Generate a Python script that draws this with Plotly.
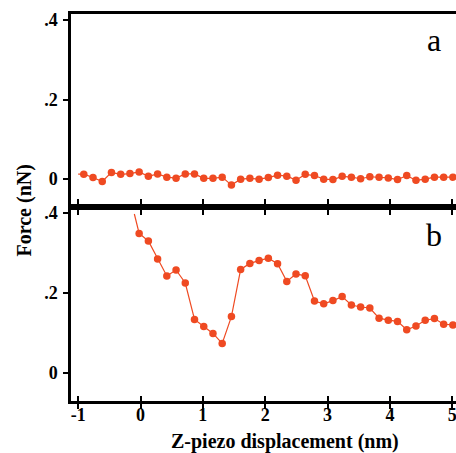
import plotly.graph_objects as go

# Sampling positions along the Z-piezo displacement (nm)
z_nm = [-0.910, -0.762, -0.614, -0.466, -0.318, -0.170, -0.022, 0.126, 0.274, 0.422,
        0.570, 0.718, 0.866, 1.014, 1.162, 1.310, 1.458, 1.606, 1.754, 1.902,
        2.050, 2.198, 2.346, 2.494, 2.642, 2.790, 2.938, 3.086, 3.234, 3.382,
        3.530, 3.678, 3.826, 3.974, 4.122, 4.270, 4.418, 4.566, 4.714, 4.862, 5.010]

# Panel a: force curve that stays flat near zero
force_a = [0.0125, 0.004, -0.006, 0.017, 0.012, 0.014, 0.018, 0.007, 0.013, 0.005,
           0.0025, 0.013, 0.013, 0.002, 0.002, 0.005, -0.015, 0.000, 0.002, 0.000,
           0.004, 0.010, 0.0075, -0.0025, 0.012, 0.009, 0.000, -0.001, 0.007, 0.005,
           0.001, 0.006, 0.005, 0.003, -0.001, 0.009, -0.003, 0.000, 0.005, 0.005, 0.005]
lead_a = (-1.00, 0.0125)

# Panel b: oscillating force curve (starts at z = -0.022 nm)
z_b = z_nm[6:]
force_b = [0.349, 0.330, 0.285, 0.2425, 0.2575, 0.225, 0.134, 0.116, 0.099, 0.074,
           0.141, 0.259, 0.274, 0.281, 0.287, 0.273, 0.229, 0.2475, 0.243, 0.180,
           0.173, 0.181, 0.191, 0.170, 0.165, 0.1625, 0.137, 0.132, 0.129, 0.108,
           0.1175, 0.132, 0.136, 0.122, 0.120]
lead_b = (-0.099, 0.3975)

x_ticks = [-1, 0, 1, 2, 3, 4, 5]
x_ticktext = ["-1", "0", "1", "2", "3", "4", "5"]
y_ticks = [0, 0.2, 0.4]
y_ticktext = ["0", ".2", ".4"]

RED = "#EF4A22"
FONT = "Liberation Serif"
W, H = 456, 453
ML, MR, MT, MB = 71, 0, 14, 52
split = (401 - 207) / (401 - 14)

fig = go.Figure()

def add_curve(xs, ys, lead, xa, ya):
    fig.add_trace(go.Scatter(x=[lead[0]] + xs, y=[lead[1]] + ys, mode="lines",
                             line=dict(color=RED, width=1.2),
                             xaxis=xa, yaxis=ya, hoverinfo="skip"))
    fig.add_trace(go.Scatter(x=xs, y=ys, mode="markers",
                             marker=dict(color=RED, size=7.5, line=dict(width=0)),
                             xaxis=xa, yaxis=ya))

add_curve(z_nm, force_a, lead_a, "x2", "y2")
add_curve(z_b, force_b, lead_b, "x", "y")
# empty trace holding the inward tick axis on the bottom frame
fig.add_trace(go.Scatter(x=[], y=[], xaxis="x3", yaxis="y"))

xr = [-1.115, 5.06]
yr = [-0.07, 0.415]
tickfont = dict(family=FONT, size=18, color="black", weight="bold")
common_x = dict(range=xr, tickvals=x_ticks, showline=True, linecolor="black",
                linewidth=2.5, ticklen=5, tickwidth=2, tickcolor="black",
                showgrid=False, zeroline=False)
common_y = dict(range=yr, tickvals=y_ticks, ticktext=y_ticktext, ticks="outside",
                showline=True, linecolor="black", linewidth=2.5, ticklen=5,
                tickwidth=2, tickcolor="black", showgrid=False, zeroline=False,
                tickfont=tickfont, ticklabelstandoff=2)

fig.update_layout(
    width=W, height=H,
    margin=dict(l=ML, r=MR, t=MT, b=MB),
    paper_bgcolor="white", plot_bgcolor="white",
    showlegend=False,
    xaxis=dict(common_x, anchor="y", ticks="outside", mirror="ticks",
               ticktext=x_ticktext, tickfont=tickfont,
               ticklabelstandoff=-9, ticklabeloverflow="allow"),
    xaxis2=dict(common_x, anchor="y2", ticks="outside", mirror=True,
                showticklabels=False),
    xaxis3=dict(range=xr, tickvals=x_ticks, overlaying="x", anchor="y",
                side="bottom", ticks="inside", ticklen=5, tickwidth=2,
                tickcolor="black", showline=False, showticklabels=False,
                showgrid=False, zeroline=False),
    yaxis=dict(common_y, domain=[0, split], anchor="x"),
    yaxis2=dict(common_y, domain=[split, 1], anchor="x2"),
)

pw = W - ML - MR
ph = H - MT - MB

fig.add_annotation(text="Force (nN)", textangle=-90, showarrow=False,
                   xref="paper", yref="paper",
                   x=(24 - ML) / pw, y=(H - MB - 210.5) / ph,
                   xanchor="center", yanchor="middle",
                   font=dict(family=FONT, size=20, color="black", weight="bold"))
fig.add_annotation(text="Z-piezo displacement (nm)", showarrow=False,
                   xref="paper", yref="paper",
                   x=(285 - ML) / pw, y=(H - MB - 442) / ph,
                   xanchor="center", yanchor="middle",
                   font=dict(family=FONT, size=20, color="black", weight="bold"))
fig.add_annotation(text="a", showarrow=False, xref="x2", yref="y2",
                   x=4.70, y=0.35, xanchor="center", yanchor="middle",
                   font=dict(family=FONT, size=32, color="black"))
fig.add_annotation(text="b", showarrow=False, xref="x", yref="y",
                   x=4.70, y=0.345, xanchor="center", yanchor="middle",
                   font=dict(family=FONT, size=32, color="black"))

fig.write_html("out.html")
